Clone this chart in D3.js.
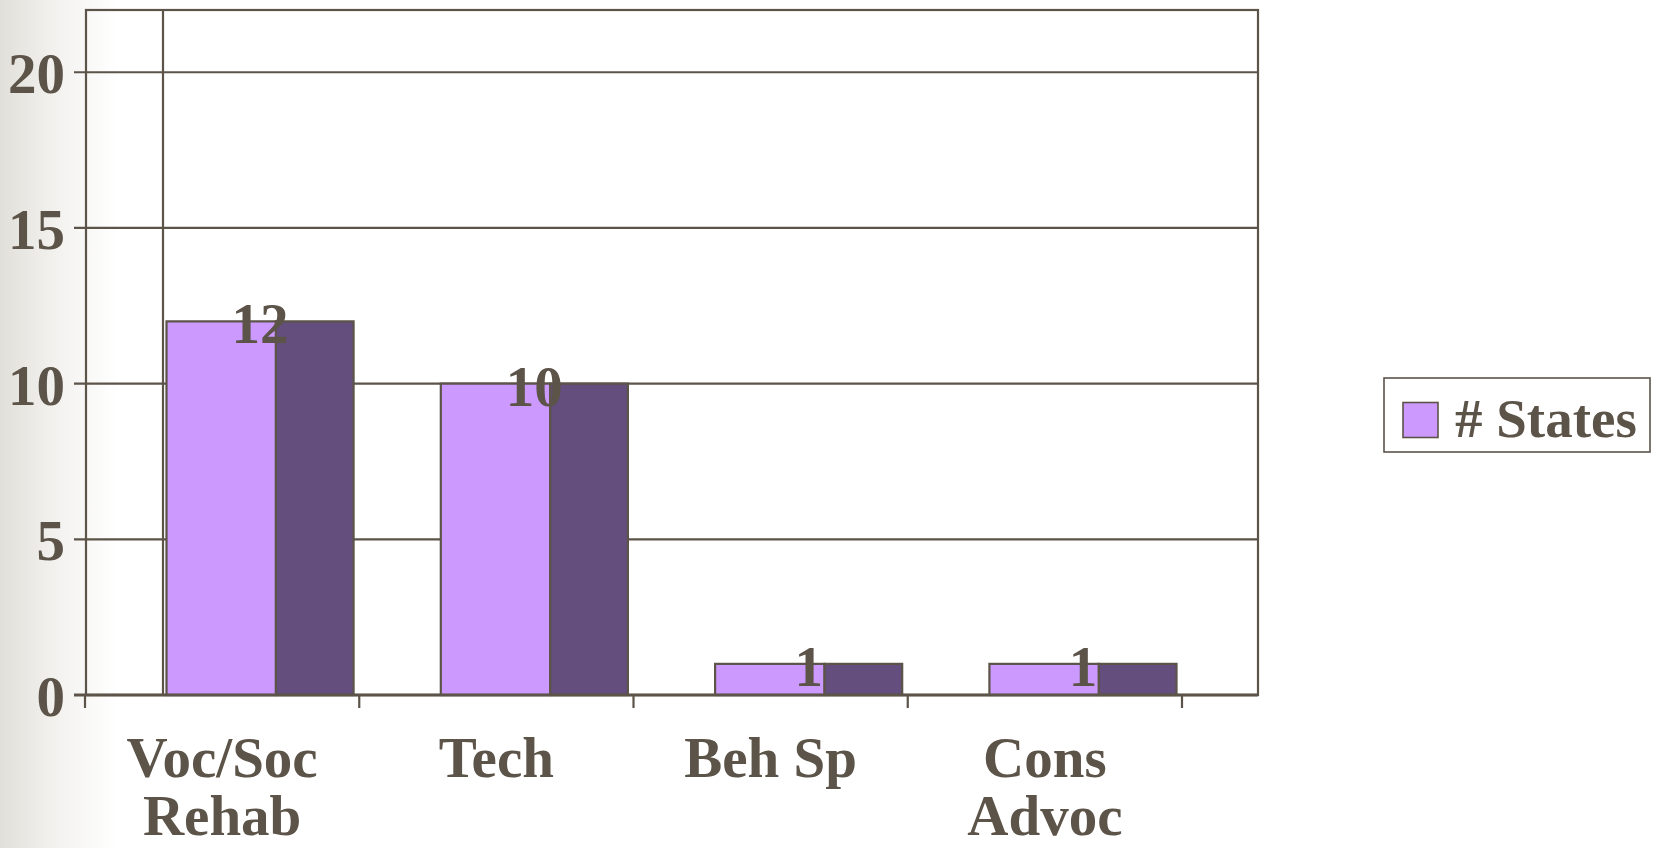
<!DOCTYPE html>
<html><head><meta charset="utf-8">
<script src="https://cdn.jsdelivr.net/npm/d3@7/dist/d3.min.js"></script>
<style>html,body{margin:0;padding:0;background:#fff;overflow:hidden}svg{display:block}</style>
</head><body>
<script>
const categories = ["Voc/Soc Rehab", "Tech", "Beh Sp", "Cons Advoc"];
const categoryLines = [["Voc/Soc", "Rehab"], ["Tech"], ["Beh Sp"], ["Cons", "Advoc"]];
const values = [12, 10, 1, 1];
const yTicks = [0, 5, 10, 15, 20];
const seriesName = "# States";

const W = 1659, H = 848;
const ink = "#5c5349";
const lightFill = "#cc99ff", darkFill = "#634e7e";
const font = "'Liberation Serif','Times New Roman',serif";

const svg = d3.select("body").append("svg").attr("width", W).attr("height", H);
const defs = svg.append("defs");
const grad = defs.append("linearGradient").attr("id", "bg").attr("x1", 0).attr("x2", 1).attr("y1", 0).attr("y2", 0);
grad.append("stop").attr("offset", 0).attr("stop-color", "#e1dfd9");
grad.append("stop").attr("offset", 0.45).attr("stop-color", "#f2f1ee");
grad.append("stop").attr("offset", 1).attr("stop-color", "#ffffff");
svg.append("rect").attr("x", 0).attr("y", 0).attr("width", W).attr("height", H).attr("fill", "#fff");
svg.append("rect").attr("x", 0).attr("y", 0).attr("width", 118).attr("height", H).attr("fill", "url(#bg)");

const pLeft = 86, pRight = 1258, pTop = 10, pBottom = 695;
const y = d3.scaleLinear().domain([0, 22]).range([pBottom, pTop]);
const xAxisBand = d3.scaleBand().domain(categories).range([85, 1182]).padding(0);
const xBar = d3.scaleBand().domain(categories).range([166.5, 1176.5]).paddingInner(0.318).paddingOuter(0);

const lineW = 2.2;
// gridlines
svg.append("g").selectAll("line").data(yTicks.filter(d => d > 0)).join("line")
  .attr("x1", pLeft - 12).attr("x2", pRight)
  .attr("y1", d => y(d)).attr("y2", d => y(d))
  .attr("stroke", ink).attr("stroke-width", lineW);
// box
svg.append("rect").attr("x", pLeft).attr("y", pTop).attr("width", pRight - pLeft).attr("height", pBottom - pTop)
  .attr("fill", "none").attr("stroke", ink).attr("stroke-width", lineW);
// back wall vertical line
svg.append("line").attr("x1", 163).attr("x2", 163).attr("y1", pTop).attr("y2", pBottom)
  .attr("stroke", ink).attr("stroke-width", lineW);

// bars
const bw = xBar.bandwidth();
const frontFrac = 0.585;
const g = svg.append("g");
g.selectAll("rect.front").data(categories).join("rect").attr("class", "front")
  .attr("x", d => xBar(d)).attr("y", (d, i) => y(values[i]))
  .attr("width", bw * frontFrac).attr("height", (d, i) => y(0) - y(values[i]))
  .attr("fill", lightFill).attr("stroke", ink).attr("stroke-width", lineW);
g.selectAll("rect.side").data(categories).join("rect").attr("class", "side")
  .attr("x", d => xBar(d) + bw * frontFrac).attr("y", (d, i) => y(values[i]))
  .attr("width", bw * (1 - frontFrac)).attr("height", (d, i) => y(0) - y(values[i]))
  .attr("fill", darkFill).attr("stroke", ink).attr("stroke-width", lineW);

// bottom axis line
svg.append("line").attr("x1", pLeft - 12).attr("x2", pRight).attr("y1", pBottom).attr("y2", pBottom)
  .attr("stroke", ink).attr("stroke-width", lineW + 0.6);

// y tick labels
svg.append("g").selectAll("text").data(yTicks).join("text")
  .attr("x", 65).attr("y", d => y(d) + 21).attr("text-anchor", "end")
  .attr("font-family", font).attr("font-weight", "bold").attr("font-size", 57).attr("fill", ink)
  .text(d => d);

// x ticks at band boundaries
const bounds = categories.map(c => xAxisBand(c)).concat([xAxisBand.range()[1]]);
svg.append("g").selectAll("line").data(bounds).join("line")
  .attr("x1", d => d).attr("x2", d => d).attr("y1", pBottom).attr("y2", pBottom + 13)
  .attr("stroke", ink).attr("stroke-width", lineW);

// category labels
const cl = svg.append("g");
categories.forEach((c, i) => {
  const t = cl.append("text").attr("text-anchor", "middle")
    .attr("font-family", font).attr("font-weight", "bold").attr("font-size", 57).attr("fill", ink);
  categoryLines[i].forEach((ln, j) => {
    t.append("tspan").attr("x", xAxisBand(c) + xAxisBand.bandwidth() / 2).attr("y", 777 + j * 58).text(ln);
  });
});

// data labels
svg.append("g").selectAll("text").data(categories).join("text")
  .attr("x", d => xBar(d) + bw / 2).attr("y", (d, i) => y(values[i]) + 22)
  .attr("text-anchor", "middle")
  .attr("font-family", font).attr("font-weight", "bold").attr("font-size", 57).attr("fill", ink)
  .text((d, i) => values[i]);

// legend
const lg = svg.append("g");
lg.append("rect").attr("x", 1384).attr("y", 378).attr("width", 266).attr("height", 74)
  .attr("fill", "#fff").attr("stroke", ink).attr("stroke-width", 1.6);
lg.append("rect").attr("x", 1403).attr("y", 402.5).attr("width", 35).attr("height", 35)
  .attr("fill", lightFill).attr("stroke", ink).attr("stroke-width", 1.6);
lg.append("text").attr("x", 1455).attr("y", 437)
  .attr("font-family", font).attr("font-weight", "bold").attr("font-size", 55).attr("fill", ink)
  .text(seriesName);
</script>
</body></html>
